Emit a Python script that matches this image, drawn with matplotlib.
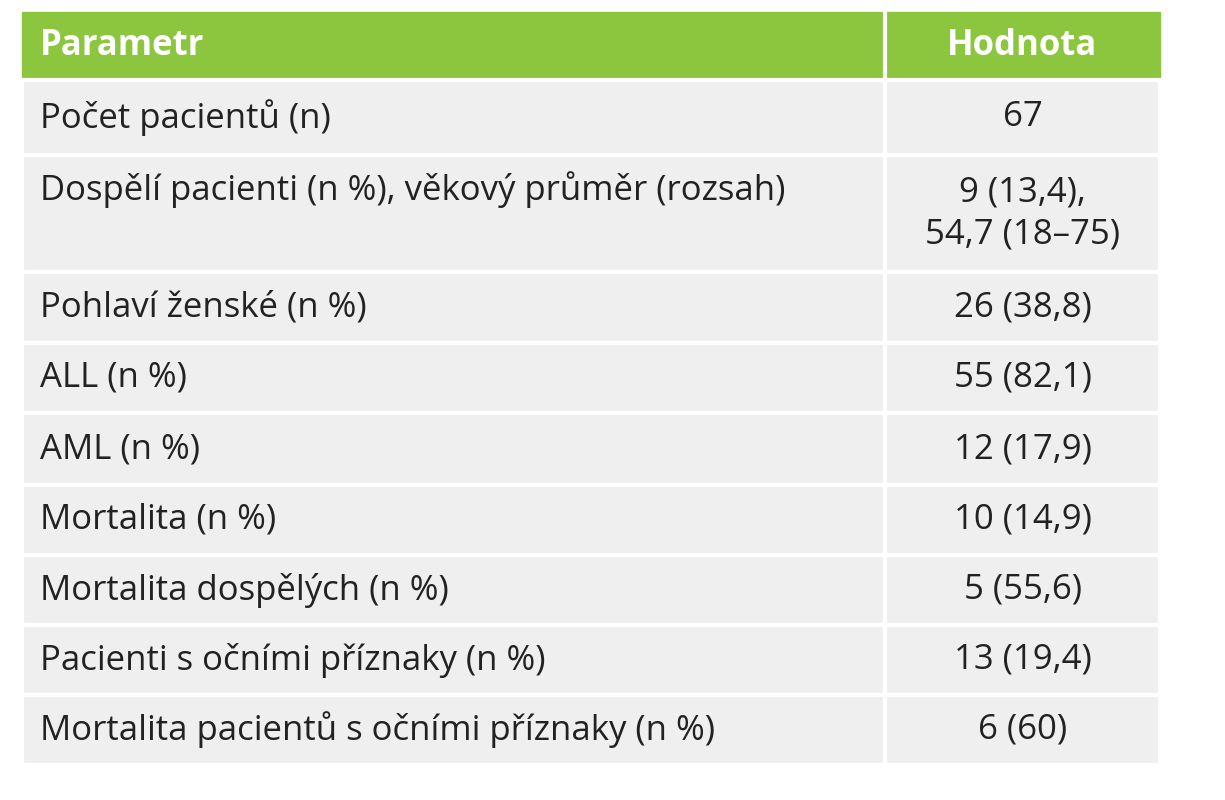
import matplotlib
matplotlib.use("Agg")
import matplotlib.pyplot as plt
from matplotlib.patches import Rectangle

header = ["Parametr", "Hodnota"]
params = ["Počet pacientů (n)", "Dospělí pacienti (n %), věkový průměr (rozsah)",
          "Pohlaví ženské (n %)", "ALL (n %)", "AML (n %)", "Mortalita (n %)",
          "Mortalita dospělých (n %)", "Pacienti s očními příznaky (n %)",
          "Mortalita pacientů s očními příznaky (n %)"]
values = ["67", "9 (13,4),\n54,7 (18–75)", "26 (38,8)", "55 (82,1)", "12 (17,9)",
          "10 (14,9)", "5 (55,6)", "13 (19,4)", "6 (60)"]
row_bounds = [12, 80, 155, 272, 343, 413, 485, 555, 625, 695, 765]

fig = plt.figure(figsize=(12.25, 8), dpi=100)
ax = fig.add_axes([0, 0, 1, 1])
ax.set_xlim(0, 1225); ax.set_ylim(800, 0); ax.axis("off")
x0, xm, x1 = 22, 885, 1160
fam = ["Open Sans", "DejaVu Sans"]
fs = 25
ax.add_patch(Rectangle((x0, row_bounds[0]), x1 - x0, row_bounds[1] - row_bounds[0], color="#8cc63e"))
ax.text(x0 + 18, (row_bounds[0] + row_bounds[1]) / 2, header[0], color="white", fontsize=fs,
        fontweight="bold", va="center", family=fam)
ax.text((xm + x1) / 2, (row_bounds[0] + row_bounds[1]) / 2, header[1], color="white", fontsize=fs,
        fontweight="bold", va="center", ha="center", family=fam)
for i, (p, v) in enumerate(zip(params, values)):
    t, b = row_bounds[i + 1], row_bounds[i + 2]
    ax.add_patch(Rectangle((x0, t), x1 - x0, b - t, facecolor="#efefef", edgecolor="white", lw=3))
    ytxt = (t + 35) if "\n" in v else (t + b) / 2
    ax.text(x0 + 18, ytxt, p, fontsize=fs, va="center", color="#222222", family=fam)
    ax.text((xm + x1) / 2, (t + b) / 2, v, fontsize=fs, va="center", ha="center", color="#222222",
            family=fam, linespacing=1.3)
ax.plot([xm, xm], [row_bounds[0], row_bounds[-1]], color="white", lw=3)
fig.savefig("out.png", dpi=100)
